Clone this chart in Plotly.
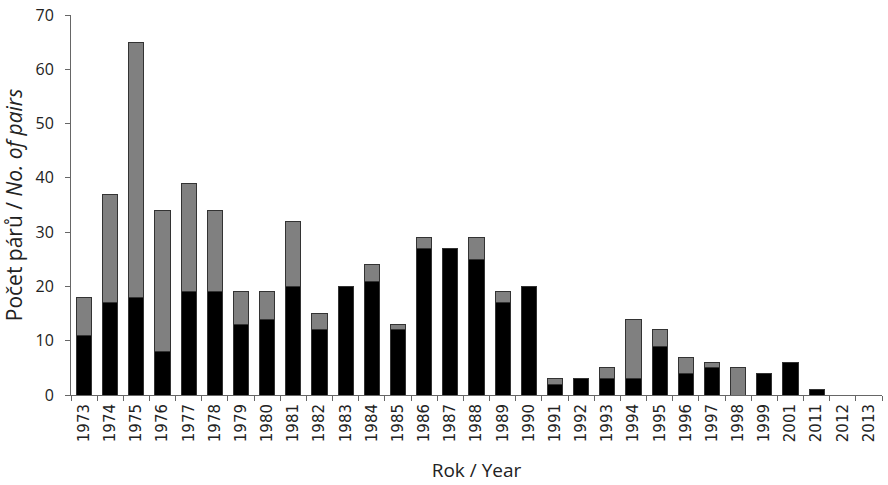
import plotly.graph_objects as go

years = ["1973","1974","1975","1976","1977","1978","1979","1980","1981","1982",
         "1983","1984","1985","1986","1987","1988","1989","1990","1991","1992",
         "1993","1994","1995","1996","1997","1998","1999","2001","2011","2012","2013"]
black_vals = [11,17,18,8,19,19,13,14,20,12,20,21,12,27,27,25,17,20,2,3,3,3,9,4,5,0,4,6,1,0,0]
grey_vals  = [7,20,47,26,20,15,6,5,12,3,0,3,1,2,0,4,2,0,1,0,2,11,3,3,1,5,0,0,0,0,0]

font = "Open Sans, sans-serif"
fig = go.Figure()
fig.add_bar(x=years, y=black_vals, marker=dict(color="#000000", line=dict(color="#333333", width=1)), name="a")
fig.add_bar(x=years, y=grey_vals, marker=dict(color="#808080", line=dict(color="#333333", width=1)), name="b")

fig.update_layout(
    barmode="stack", bargap=0.42, showlegend=False,
    width=888, height=485,
    margin=dict(l=71, r=6, t=15, b=90, autoexpand=False),
    plot_bgcolor="white", paper_bgcolor="white",
    font=dict(family=font, size=14, color="#222"),
    xaxis=dict(type="category", showline=True, linecolor="#666", linewidth=1,
               ticks="outside", tickson="boundaries", ticklen=5, tickcolor="#666",
               tickangle=-90, tickfont=dict(size=15, family="DejaVu Sans"), automargin=False,
               ticklabelstandoff=2,
               title=dict(text="Rok / Year", font=dict(size=19), standoff=22)),
    yaxis=dict(range=[0, 70], dtick=10, showline=True, linecolor="#666", linewidth=1,
               ticks="outside", ticklen=5, tickcolor="#666", showgrid=False, zeroline=False,
               tickfont=dict(size=16), automargin=False, ticklabelstandoff=8,
               ticklabeloverflow="allow",
               title=dict(text="Počet párů / <i>No. of pairs</i>", font=dict(size=21), standoff=10)),
)
fig.write_html("out.html", config={"displayModeBar": False},
               post_script="document.body.style.margin='0';document.body.style.overflow='hidden';")
